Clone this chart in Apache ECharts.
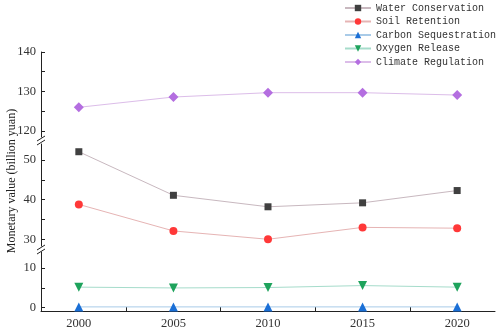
<!DOCTYPE html>
<html>
<head>
<meta charset="utf-8">
<script src="https://cdn.jsdelivr.net/npm/echarts@6/dist/echarts.min.js"></script>
<style>html,body{margin:0;padding:0;background:#fff;}#c{width:498px;height:330px;}</style>
</head>
<body>
<div id="c"></div>
<script>
const years = [2000, 2005, 2010, 2015, 2020];
const water = [52.1, 41.1, 38.2, 39.2, 42.3];
const soil = [38.8, 32.1, 30.0, 33.0, 32.8];
const carbon = [0.2, 0.2, 0.2, 0.2, 0.2];
const oxygen = [5.2, 5.0, 5.1, 5.6, 5.2];
const climate = [126.0, 128.6, 129.7, 129.7, 129.1];
const seriesNames = ['Water Conservation', 'Soil Retention', 'Carbon Sequestration', 'Oxygen Release', 'Climate Regulation'];
const xTickLabels = [2000, 2005, 2010, 2015, 2020];
const xMinorTicks = [2002.5, 2007.5, 2012.5, 2017.5];
const topLabels = [120, 130, 140];
const topTicks = [120, 125, 130, 135, 140];
const midLabels = [30, 40, 50];
const midTicks = [30, 35, 40, 45, 50];
const botLabels = [0, 10];
const botTicks = [0, 5, 10];
const yTitle = 'Monetary value (billion yuan)';

const pair = arr => years.map((y, i) => [y, arr[i]]);
const serif = 'Liberation Serif';
const axisCol = '#222';
const labelStyle = {fontFamily: serif, fontSize: 12.5, color: '#333'};

function xAx(idx, show) {
  return {
    type: 'value', gridIndex: idx, min: 1998, max: 2022, show: show,
    axisLine: {show: true, onZero: false, lineStyle: {color: axisCol, width: 1}},
    axisTick: {show: true, inside: true, length: 4, customValues: xTickLabels.concat(xMinorTicks), lineStyle: {color: axisCol}},
    axisLabel: Object.assign({show: true, margin: 6, customValues: xTickLabels, formatter: v => String(v)}, labelStyle),
    splitLine: {show: false}
  };
}
function yAx(idx, min, max, labels, ticks) {
  return {
    type: 'value', gridIndex: idx, min: min, max: max,
    axisLine: {show: true, onZero: false, lineStyle: {color: axisCol, width: 1}},
    axisTick: {show: true, inside: true, length: 4, customValues: ticks, lineStyle: {color: axisCol}},
    axisLabel: Object.assign({margin: 5, customValues: labels, formatter: v => String(v)}, labelStyle),
    splitLine: {show: false}
  };
}

const option = {
  backgroundColor: '#fff',
  animation: false,
  grid: [
    {left: 41, right: 3, top: 52, height: 85},
    {left: 41, right: 3, top: 144, height: 102},
    {left: 41, right: 3, top: 252, height: 59}
  ],
  xAxis: [xAx(0, false), xAx(1, false), xAx(2, true)],
  yAxis: [
    yAx(0, 118.48, 140, topLabels, topTicks),
    yAx(1, 28.3, 54.05, midLabels, midTicks),
    yAx(2, -0.84, 14.1, botLabels, botTicks)
  ],
  legend: {
    orient: 'vertical', left: 344, top: -2, padding: [5, 0, 5, 0], itemWidth: 26, itemHeight: 8, itemGap: 3.5,
    textStyle: {fontFamily: 'Liberation Mono', fontSize: 10, color: '#333'},
    data: seriesNames
  },
  series: [
    {name: seriesNames[0], type: 'line', xAxisIndex: 1, yAxisIndex: 1, data: pair(water), symbol: 'rect', symbolSize: 7,
      itemStyle: {color: '#404040'}, lineStyle: {color: '#c8b8bf', width: 1}, clip: false},
    {name: seriesNames[1], type: 'line', xAxisIndex: 1, yAxisIndex: 1, data: pair(soil), symbol: 'circle', symbolSize: 8,
      itemStyle: {color: '#ff3838'}, lineStyle: {color: '#e6b4b4', width: 1}, clip: false},
    {name: seriesNames[2], type: 'line', xAxisIndex: 2, yAxisIndex: 2, data: pair(carbon), symbol: 'triangle', symbolSize: 9,
      itemStyle: {color: '#1a6fd6'}, lineStyle: {color: '#a9cbe8', width: 1}, clip: false},
    {name: seriesNames[3], type: 'line', xAxisIndex: 2, yAxisIndex: 2, data: pair(oxygen), symbol: 'triangle', symbolRotate: 180, symbolSize: 9,
      itemStyle: {color: '#1ea35c'}, lineStyle: {color: '#a6dccb', width: 1}, clip: false},
    {name: seriesNames[4], type: 'line', xAxisIndex: 0, yAxisIndex: 0, data: pair(climate), symbol: 'diamond', symbolSize: 10,
      itemStyle: {color: '#b46ee0'}, lineStyle: {color: '#dcbde9', width: 1}, clip: false}
  ],
  graphic: [
    {type: 'text', x: 12, y: 181, rotation: Math.PI / 2,
      style: {text: yTitle, fontFamily: serif, fontSize: 12, fill: '#222', textAlign: 'center', textVerticalAlign: 'middle'}},
    {type: 'line', shape: {x1: 37, y1: 141, x2: 45, y2: 136}, style: {stroke: axisCol, lineWidth: 1}},
    {type: 'line', shape: {x1: 37, y1: 145, x2: 45, y2: 140}, style: {stroke: axisCol, lineWidth: 1}},
    {type: 'line', shape: {x1: 37, y1: 250, x2: 45, y2: 245}, style: {stroke: axisCol, lineWidth: 1}},
    {type: 'line', shape: {x1: 37, y1: 254, x2: 45, y2: 249}, style: {stroke: axisCol, lineWidth: 1}}
  ]
};
const chart = echarts.init(document.getElementById('c'), null, {renderer: 'canvas'});
chart.setOption(option);
</script>
</body>
</html>
